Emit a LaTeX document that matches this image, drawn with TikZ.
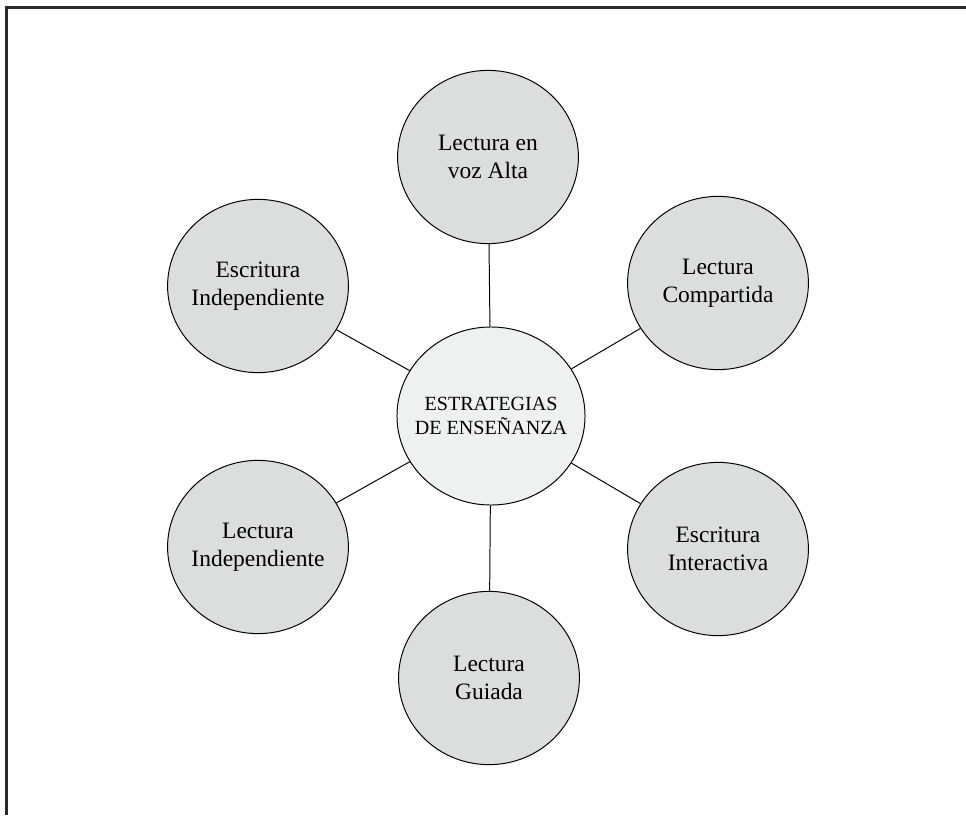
\documentclass[tikz,border=0pt]{standalone}
\usepackage{fontspec}
\setmainfont{Liberation Serif}
\usetikzlibrary{shapes.geometric}
\definecolor{outerfill}{HTML}{DCDDDD}
\definecolor{innerfill}{HTML}{EFF0F0}
\definecolor{framecol}{HTML}{2A2A2A}
\begin{document}
\begin{tikzpicture}[x=0.025cm,y=-0.025cm,
  outer/.style={ellipse,draw=black,line width=0.7pt,fill=outerfill,minimum width=4.52cm,minimum height=4.33cm,inner xsep=-0.3cm,inner ysep=0pt,align=center,font=\fontsize{16.7}{20}\selectfont},
  inner/.style={ellipse,draw=black,line width=0.7pt,fill=innerfill,minimum width=4.7cm,minimum height=4.45cm,inner xsep=-0.3cm,inner ysep=0pt,align=center,font=\fontsize{14.3}{17}\selectfont},
  link/.style={draw=black,line width=0.7pt}]
\useasboundingbox (0,0) rectangle (966,815);
\draw[framecol,line width=1.5pt] (6.5,815) -- (6.5,7.5) -- (966,7.5);
\node[inner] (c) at (491,416) {ESTRATEGIAS\\DE ENSEÑANZA};
\node[outer] (t) at (488,157) {Lectura en\\voz Alta};
\node[outer] (tr) at (718,283) {Lectura\\Compartida};
\node[outer] (br) at (718,549) {Escritura\\Interactiva};
\node[outer] (b) at (489,678) {Lectura\\Guiada};
\node[outer] (bl) at (258,547) {Lectura\\Independiente};
\node[outer] (tl) at (258,286) {Escritura\\Independiente};
\foreach \n in {t,tr,br,b,bl,tl} \draw[link] (c) -- (\n);
\end{tikzpicture}
\end{document}
